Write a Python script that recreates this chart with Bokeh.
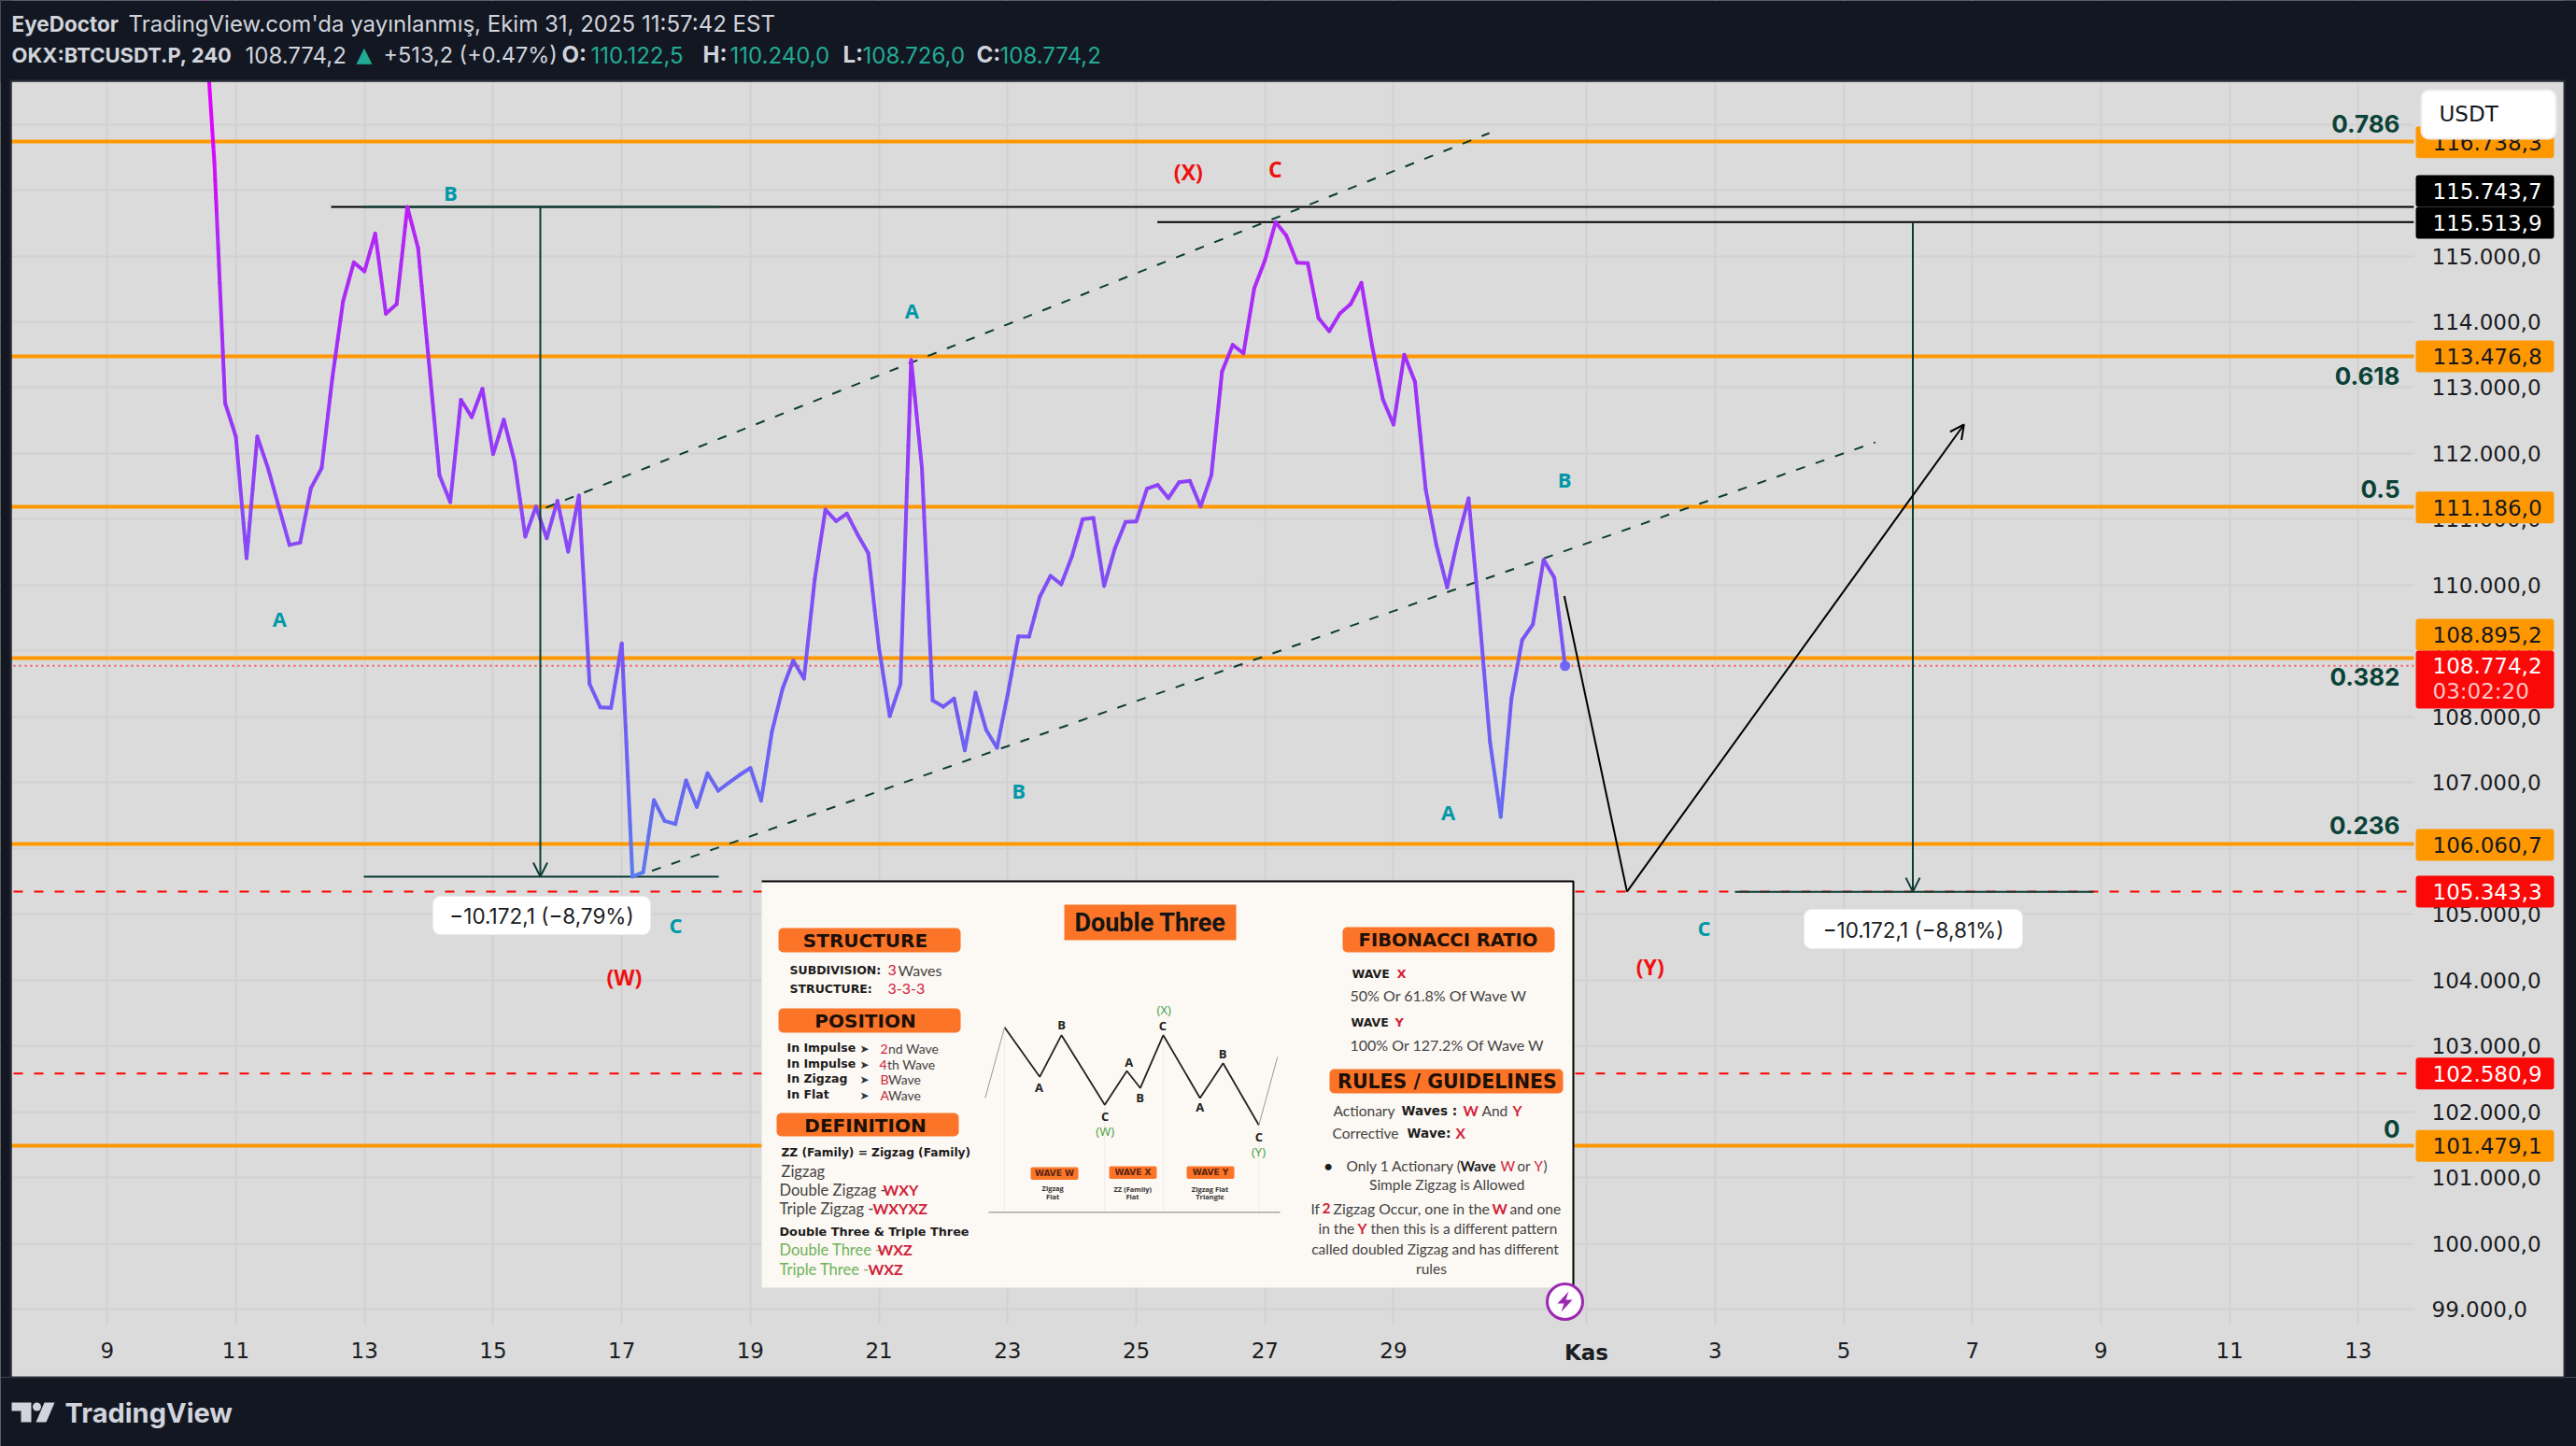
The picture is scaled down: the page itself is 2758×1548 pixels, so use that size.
from bokeh.embed import file_html
from bokeh.resources import INLINE
from bokeh.plotting import figure
from bokeh.models import (Range1d, Label, BoxAnnotation, FixedTicker, Arrow, OpenHead)
import numpy as np

# ---------- data ----------
close_prices = [
 118924,116412,112764,112257,110408,112257,111776,111193,110610,110645,111472,111776,113144,114310,114902,114766,
 115339,114122,114269,115743.7,115121,113398,111664,111260,112815,112552,112982,111989,112511,111877,110737,111193,
 110712,111279,110509,111360,108498,108143,108135,109114,105571.6,105637,106734,106418,106370,107032,106631,107142,
 106876,107000,107117,107221,106724,107766,108427,108853,108579,110083,111147,110973,111086,110769,110485,109043,
 108011,108498,113418,111786,108248,108153,108277,107491,108366,107799,107529,108334,109222,109218,109823,110140,
 110012,110438,111001,111020,109988,110556,110959,110967,111464,111521,111322,111563,111583,111194,111668,113243,
 113649,113521,114506,114932,115513.9,115309,114898,114889,114056,113858,114127,114269,114591,113631,112826,112439,
 113499,113087,111455,110604,109965,110698,111318,109545,107620,106480,108280,109167,109403,110383,110113,108774.2]
last_bar_day = 31.667
fib_values = [101479.1,106060.7,108895.2,111186.0,113476.8,116738.3]
fib_names = ["0","0.236","0.382","0.5","0.618","0.786"]
red_levels = [105343.3,102580.9]
last_price = 108774.2
high_w, low_w = 115743.7, 105571.6
high_y, low_y = 115513.9, 105341.8
channel_up_x, channel_up_y = [15.82,30.49],[111176,116866]
channel_lo_x, channel_lo_y = [17.47,36.49],[105660,112169]
path_x, path_y = [31.655,32.63,37.87],[109835,105343,112439]
wave_names = ["A","B","A","B","C","A","B","C"]
wave_x = [11.68,14.34,21.51,23.17,17.84,29.85,31.66,33.83]
wave_y = [109501,115958,114184,106881,104833,106564,111602,104804]
red_names = ["(W)","(X)","C","(Y)"]
red_x = [17.04,25.81,27.16,32.99]
red_y = [104052,116284,116313,104208]
y_ticks = list(range(99000,118000,1000))
y_tick_labels = {v: f"{v//1000}.000,0" for v in y_ticks}
x_ticks = [9,11,13,15,17,19,21,23,25,27,29,32,34,36,38,40,42,44]
x_tick_names = ["9","11","13","15","17","19","21","23","25","27","29"," ","3","5","7","9","11","13"]
tag_names = ["116.738,3","115.743,7","115.513,9","113.476,8","111.186,0","108.895,2","108.774,2","106.060,7","105.343,3","102.580,9","101.479,1"]

# ---------- colours ----------
BG="#dbdbdb"; DARK="#131722"; GRID="#d1d1d1"; ORANGE="#ff9800"; GREEN="#0b3d32"; TEAL="#0097a7"; TVTEAL="#22ab94"
HEAD="#d1d4dc"; AXT="#1a1c22"; INS="#fcf8f3"; OR2="#fb7428"; RED2="#d0223a"; G2="#444444"; B2="#1c1c1c"; GRN2="#6fb35a"
NUMF="DejaVu Sans"

# ---------- figure ----------
W,H=2758,1548
FL,FR,FT,FB=12,2584,87,1418
def d_of(px): return 11+(px-252)/68.86
def p_of(Y): return 118881-14.19*Y
p=figure(width=W,height=H,output_backend="svg",toolbar_location=None,y_axis_location="right",
         x_range=Range1d(d_of(0),d_of(W)),y_range=Range1d(p_of(H),p_of(0)),
         background_fill_color=BG,border_fill_color=BG,outline_line_color=None,min_border=0)
p.extra_x_ranges={"px":Range1d(0,W)}
p.extra_y_ranges={"py":Range1d(H,0)}
PX=dict(x_range_name="px",y_range_name="py")

for ax,t,lab,loc in ((p.xaxis[0],x_ticks,dict(zip(x_ticks,x_tick_names)),p_of(FB)),(p.yaxis[0],y_ticks,y_tick_labels,d_of(FR))):
    ax.ticker=FixedTicker(ticks=t); ax.major_label_overrides=lab; ax.fixed_location=loc
    ax.axis_line_color=None; ax.major_tick_line_color=None; ax.minor_tick_line_color=None
    ax.major_label_text_font=NUMF; ax.major_label_text_font_size="23px"; ax.major_label_text_color=AXT
p.xaxis[0].major_label_standoff=8
p.yaxis[0].major_label_standoff=13
p.xgrid.grid_line_color=GRID; p.xgrid.grid_line_width=2
p.ygrid.grid_line_color=GRID; p.ygrid.grid_line_width=2

def T(x,y,text,size,color,bold=False,font="Inter",align="left",xr="px",yr="py"):
    p.add_layout(Label(x=x,y=y,x_range_name=xr,y_range_name=yr,text=text,text_font=font,text_font_size=f"{size}px",
        text_color=color,text_font_style="bold" if bold else "normal",text_align=align,text_baseline="middle"))
def B(l,t,r,b,fill,line=None,radius=0,lw=1,falpha=1):
    p.add_layout(BoxAnnotation(left=l,right=r,top=t,bottom=b,fill_color=fill,fill_alpha=falpha,line_color=line,line_alpha=1 if line else 0,
        line_width=lw,border_radius=radius,editable=False,**PX))

# ---------- levels ----------
span_x=[d_of(FL+2),d_of(FR)]
p.hspan(y=fib_values,line_color=ORANGE,line_width=4)
for v in red_levels:
    p.line(span_x,[v,v],line_color="#ff0000",line_width=2,line_dash=[10,12])
p.line(span_x,[last_price,last_price],line_color="#f7525f",line_width=2,line_dash=[2,4])

# ---------- price line with vertical gradient ----------
n=len(close_prices)
days=np.array([last_bar_day-(n-1-i)/6 for i in range(n)])
prices=np.array(close_prices,float)
stop_p=[105542,106819,108948,111218,113205,115475,115759,117604]
stop_c=np.array([(91,124,240),(104,104,242),(120,86,245),(140,70,248),(160,48,248),(180,40,246),(200,20,244),(230,0,255)],float)
x0,y0,x1,y1,cols=[],[],[],[],[]
for i in range(n-1):
    pieces=max(1,int(abs(prices[i+1]-prices[i])/250))
    ts=np.linspace(0,1,pieces+1)
    xs=days[i]+(days[i+1]-days[i])*ts; ys=prices[i]+(prices[i+1]-prices[i])*ts
    for j in range(pieces):
        x0.append(xs[j]);y0.append(ys[j]);x1.append(xs[j+1]);y1.append(ys[j+1])
        m=(ys[j]+ys[j+1])/2
        c=[int(np.interp(m,stop_p,stop_c[:,k])) for k in range(3)]
        cols.append("#%02x%02x%02x"%tuple(c))

# ---------- drawings ----------
p.segment([d_of(354),d_of(1238.6)],[high_w,high_y],[d_of(FR)]*2,[high_w,high_y],line_color="#000000",line_width=2)
p.segment([d_of(389),d_of(389),d_of(1857)],[high_w,low_w,low_y],[d_of(769),d_of(769),d_of(2241)],[high_w,low_w,low_y],line_color=GREEN,line_width=2)
p.line(channel_up_x,channel_up_y,line_color=GREEN,line_width=2,line_dash=[10,12])
p.line(channel_lo_x,channel_lo_y,line_color=GREEN,line_width=2,line_dash=[10,12])
p.segment(x0,y0,x1,y1,line_color=cols,line_width=4,line_cap="round")
p.scatter([days[-1]],[prices[-1]],size=11,fill_color="#7066f5",line_color=None)
p.line(path_x[:2],path_y[:2],line_color="#000000",line_width=2)
for xs,ys,col in (((d_of(578),d_of(578)),(high_w,low_w),GREEN),((d_of(2047.5),d_of(2047.5)),(high_y,low_y),GREEN),((path_x[1],path_x[2]),(path_y[1],path_y[2]),"#000000")):
    p.add_layout(Arrow(end=OpenHead(size=15,line_color=col,line_width=2),x_start=xs[0],y_start=ys[0],x_end=xs[1],y_end=ys[1],line_color=col,line_width=2))

# axis strips hide grid and level lines beyond the plotting pane
p.quad(left=[FR,FL],right=[2745,2745],top=[87,FB],bottom=[1474,1474],fill_color=BG,line_color=None,**PX)

# ---------- inset background ----------
p.quad(left=[815],right=[1684],top=[943],bottom=[1378],fill_color=INS,line_color=None,**PX)
p.line([815,1684,1684],[943,943,1378],line_color="#000000",line_width=2,**PX)

# inset zigzag
zz_x=[1075,1112.7,1136,1182.3,1206,1220.3,1245,1284.3,1309,1347.3]
zz_y=[1099.3,1152.3,1107.7,1182.3,1146,1164.3,1107.7,1175,1137.7,1204]
for vx,vy in zip((1075,1182.3,1245,1347.3),(1099.3,1182.3,1107.7,1204)):
    p.line([vx,vx],[vy,1297],line_color="#f1ece6",line_width=1,**PX)
p.line(zz_x,zz_y,line_color="#222222",line_width=1.8,**PX)
p.line([1054.3,1075],[1175,1099.3],line_color="#999999",line_width=1,**PX)
p.line([1347.3,1367.3],[1204,1131],line_color="#999999",line_width=1,**PX)
p.line([1058,1370],[1297.3,1297.3],line_color="#a8a8a8",line_width=1.6,**PX)

# lightning badge
p.scatter([1675],[1393],size=38,fill_color="#ffffff",line_color="#9c27b0",line_width=3,**PX)
p.patch([1679,1667,1674,1671,1683,1676],[1382,1395,1395,1404,1391,1391],fill_color="#9c27b0",line_color=None,**PX)

# ---------- footer band and logo ----------
p.quad(left=[0],right=[W],top=[1474],bottom=[H],fill_color=DARK,line_color=None,**PX)
p.patch([12,33,33,22,22,12],[1501,1501,1522,1522,1510,1510],fill_color=HEAD,line_color=None,**PX)
p.patch([47,58,49,38],[1501,1501,1522,1522],fill_color=HEAD,line_color=None,**PX)
p.scatter([39],[1505.5],size=9,fill_color=HEAD,line_color=None,**PX)

# ---------- outer dark frame ----------
B(0,0,W,FT,DARK); B(0,0,12,1474,DARK); B(2745,0,W,1474,DARK)
B(11,86,2745,1474,None,"#2a2e39",0,2,0)

# ---------- header ----------
T(12,25,"EyeDoctor",22.5,HEAD,True)
T(137,25,"TradingView.com'da yayınlanmış, Ekim 31, 2025 11:57:42 EST",24,HEAD)
T(12,58,"OKX:BTCUSDT.P, 240",22,HEAD,True)
T(262,58,"108.774,2",24,HEAD)
T(381,58,"▲",22,TVTEAL,font="DejaVu Sans")
T(410,58,"+513,2 (+0.47%)",23.5,HEAD)
for lx,ln,vx,vv in ((601,"O:",632,"110.122,5"),(752,"H:",781,"110.240,0"),(902,"L:",923,"108.726,0"),(1045,"C:",1070,"108.774,2")):
    T(lx,58,ln,24,HEAD,True); T(vx,58,vv,24,TVTEAL)

# ---------- footer text ----------
T(69,1512,"TradingView",29,HEAD,True)
T(1698,1447,"Kas",23,AXT,True,font=NUMF,align="center")

# ---------- wave labels ----------
for nm,x,y in zip(wave_names,wave_x,wave_y):
    T(x,y,nm,22,TEAL,True,font="Open Sans",align="center",xr="default",yr="default")
for nm,x,y in zip(red_names,red_x,red_y):
    T(x,y,nm,23,"#f01010",True,font="Open Sans",align="center",xr="default",yr="default")

# ---------- fib names ----------
fib_off=[18,20,-20,19,-21,19]
for nm,v,o in zip(fib_names,fib_values,fib_off):
    p.add_layout(Label(x=2569,y=v,y_offset=o,x_range_name="px",text=nm,text_font="Inter",text_font_size="26px",text_font_style="bold",
                       text_color="#0b4237",text_align="right",text_baseline="middle"))

# ---------- measure pills ----------
B(463,959,696,1000,"#ffffff","#ececec",8); T(579.5,980,"−10.172,1 (−8,79%)",22.5,AXT,align="center")
B(1931,973,2165,1015,"#ffffff","#ececec",8); T(2048,994.5,"−10.172,1 (−8,81%)",22.5,AXT,align="center")

# ---------- price tags ----------
tag_y=[151.7,204,238,381,542.8,679,None,904,954,1148.7,1226.3]
tag_bg=[ORANGE,"#000000","#000000",ORANGE,ORANGE,ORANGE,"#fb0808",ORANGE,"#fb0808","#fb0808",ORANGE]
tag_fg=["#131722","#ffffff","#ffffff","#131722","#131722","#131722","#ffffff","#131722","#ffffff","#ffffff","#131722"]
for nm,y,bg,fg in zip(tag_names,tag_y,tag_bg,tag_fg):
    if y is None:
        B(2586,696,2734,758,bg,None,3)
        T(2604,711.7,nm,23,fg,font=NUMF); T(2604,739.5,"03:02:20",23,"#ffc4c4",font=NUMF)
    else:
        B(2586,y-17,2734,y+17,bg,None,3); T(2604,y,nm,23,fg,font=NUMF)
B(2592,96,2736,148,"#ffffff","#eeeeee",8,2)
T(2611,121,"USDT",23,"#131722",font=NUMF)

# ---------- inset contents ----------
F2="Lato"; FH="DejaVu Sans"
for l,t,r,b,txt,sz,cx,cy in ((833,993,1028,1019,"STRUCTURE",20,926,1006.5),(833,1079,1028,1105,"POSITION",20,926,1092),(831,1191,1026,1216,"DEFINITION",20,926,1204),
                       (1437,992,1664,1019,"FIBONACCI RATIO",19.5,1550,1005.5),(1423,1144,1673,1170,"RULES / GUIDELINES",20.5,1549,1157)):
    B(l,t,r,b,OR2,None,5); T(cx,cy,txt,sz,"#1c1008",True,font=FH,align="center")
B(1139,968,1323,1006,OR2)
T(1231,987,"Double Three",27,"#141414",True,font="Roboto",align="center")
def I(x,y,t,sz=15,c=G2,bold=False,align="left",font=F2): T(x,y,t,sz,c,bold,font=font,align=align)
I(845,1038,"SUBDIVISION:",12.5,B2,True,font=FH); I(950,1038,"3",16,RED2); I(961,1038,"Waves",16)
I(845,1058,"STRUCTURE:",12.5,B2,True,font=FH); I(950,1058,"3-3-3",16,RED2)
rows=((1121,"In Impulse",942,"2","nd Wave"),(1138,"In Impulse",941,"4","th Wave"),(1154,"In Zigzag",942,"B"," Wave"),(1171,"In Flat",942,"A"," Wave"))
for y,a,x,r,s in rows:
    I(842,y,a,12.5,B2,True,font=FH); I(920,y+1,"➤",12,"#333333",font="DejaVu Sans"); I(x,y+1,r,14,RED2); I(x+8.5,y+1,s,14)
I(836,1233,"ZZ (Family) = Zigzag (Family)",12.2,B2,True,font=FH)
I(836,1253,"Zigzag",16.5); I(834,1273,"Double Zigzag -",16.5); I(945,1273,"WXY",16,RED2,True)
I(834,1293,"Triple Zigzag -",16.5); I(934,1293,"WXYXZ",16,RED2,True)
I(834,1318,"Double Three & Triple Three",12.8,B2,True,font=FH)
I(834,1337,"Double Three -",16.5,GRN2); I(939,1337,"WXZ",16,RED2,True)
I(834,1358,"Triple Three -",16.5,GRN2); I(929,1358,"WXZ",16,RED2,True)
lets=((1136,1096.7,"B"),(1112,1163.3,"A"),(1182.7,1194.3,"C"),(1208.3,1136.7,"A"),(1220,1174.3,"B"),(1244.3,1097.7,"C"),(1284.3,1184,"A"),(1308.7,1127,"B"),(1347.3,1216.7,"C"))
for x,y,t in lets: I(x,y,t,13,"#222222",True,"center",font="Open Sans")
for x,y,t in ((1182.7,1210,"(W)"),(1245.7,1080.7,"(X)"),(1347,1232.7,"(Y)")): I(x,y,t,13,"#3aa03a",False,"center",font="Open Sans")
for l,r,t,nm in ((1103,1154,1249,"WAVE W"),(1187,1238,1248,"WAVE X"),(1270,1321,1248,"WAVE Y")):
    B(l,t,r,t+13.5,OR2,None,2); I((l+r)/2,t+6.8,nm,9,"#5a2410",True,"center",font=FH)
for x,y,t in ((1126.7,1271.7,"Zigzag"),(1126.7,1280,"Flat"),(1212.3,1272,"ZZ (Family)"),(1212,1280.3,"Flat"),(1295,1272,"Zigzag Flat"),(1295,1280.3,"Triangle")):
    I(x,y,t,7.5,"#333333",True,"center",font="Open Sans")
I(1447,1042,"WAVE",12.5,B2,True,font=FH); I(1495,1042,"X",13,RED2,True,font=FH)
I(1445,1065,"50% Or 61.8%  Of Wave W",16)
I(1446,1094,"WAVE",12.5,B2,True,font=FH); I(1493,1094,"Y",13,RED2,True,font=FH)
I(1445,1118,"100% Or 127.2%  Of Wave W",16)
I(1427,1188,"Actionary",15.5); I(1500,1188,"Waves :",13.5,B2,True,font=FH); I(1566,1188,"W",15.5,RED2,True); I(1586,1188,"And",15.5); I(1619,1188,"Y",15.5,RED2,True)
I(1426,1212,"Corrective",15.5); I(1506,1212,"Wave:",13.5,B2,True,font=FH); I(1558,1212,"X",15.5,RED2,True)
I(1417,1247,"•",16,B2,True)
I(1441,1247,"Only 1 Actionary (",15.5); I(1563,1247,"Wave",15,B2,True); I(1606,1247,"W",15,RED2); I(1624,1247,"or",15); I(1642,1247,"Y",15,RED2); I(1652,1247,")",15)
I(1549,1267,"Simple Zigzag is Allowed",15.5,align="center")
I(1403,1293,"If",15.5); I(1415,1293,"2",15.5,RED2,True); I(1427,1293,"Zigzag Occur, one in the",15.8); I(1597,1293,"W",15.5,RED2,True); I(1616,1293,"and one",15.5)
I(1411,1314.5,"in the",15.5); I(1453,1314.5,"Y",15.5,RED2,True); I(1467,1314.5,"then this is a different pattern",15.4)
I(1536,1336,"called doubled Zigzag and has different",15.5,align="center")
I(1532,1357,"rules",15.5,align="center")

html=file_html(p,INLINE)
html=html.replace("<head>","<head><style>html,body{background:#131722;overflow:hidden}</style>",1)
open("out.html","w",encoding="utf-8").write(html)
